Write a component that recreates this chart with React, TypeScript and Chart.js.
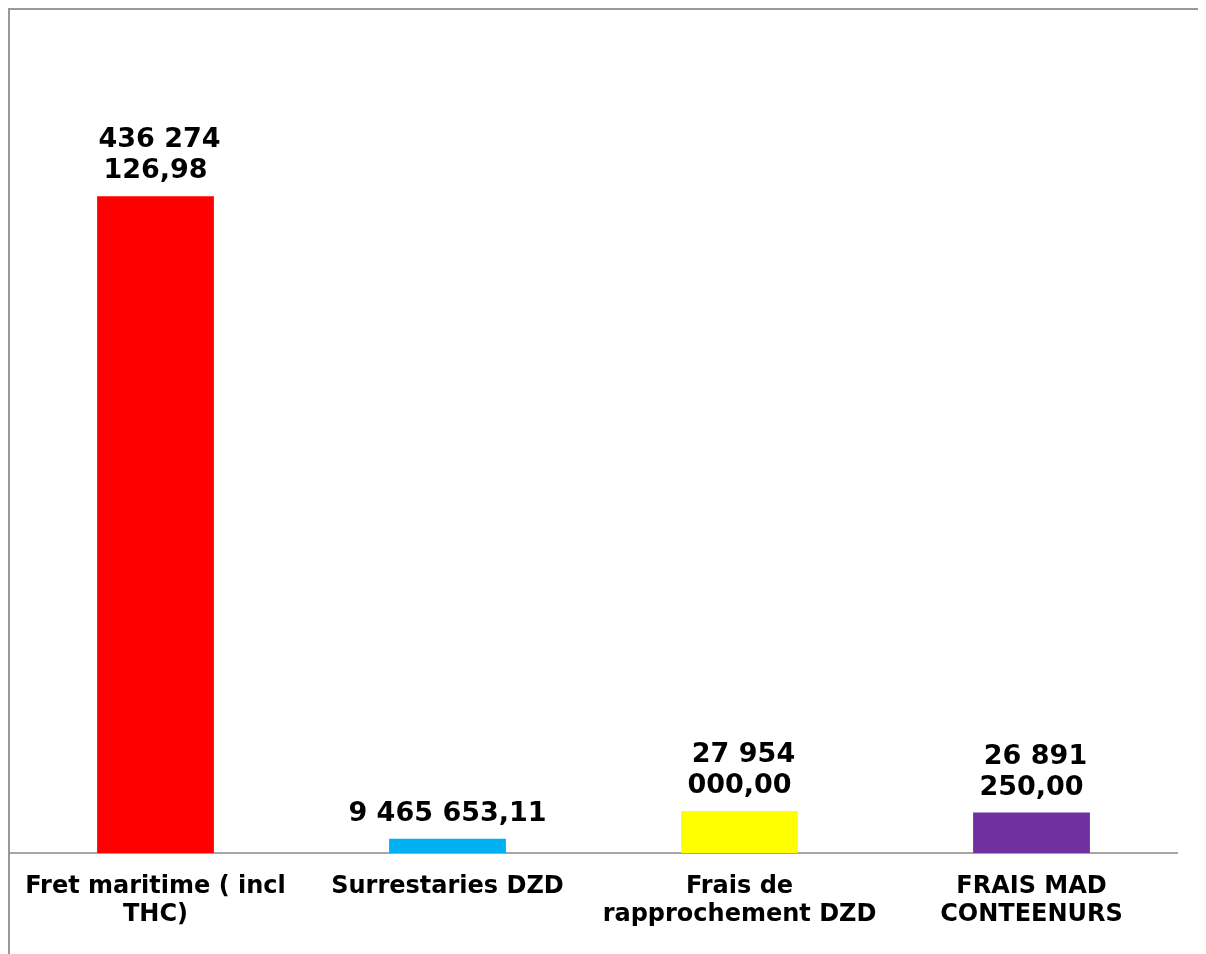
import React, { useEffect, useRef } from "react";
import { Chart, registerables } from "chart.js";

Chart.register(...registerables);

const categories: string[][] = [
  ["Fret maritime ( incl", "THC)"],
  ["Surrestaries DZD"],
  ["Frais de", "rapprochement DZD"],
  ["FRAIS MAD", "CONTEENURS"],
];
const values: number[] = [436274126.98, 9465653.11, 27954000.0, 26891250.0];
const barColors: string[] = ["#FF0000", "#00B0F0", "#FFFF00", "#7030A0"];
const yMax = 560000000;

const FONT = '"DejaVu Sans", Verdana, sans-serif';

function formatFr(v: number): string {
  const [intPart, dec] = v.toFixed(2).split(".");
  const grouped = intPart.replace(/\B(?=(\d{3})+(?!\d))/g, " ");
  return grouped + "," + dec;
}

function wrapText(ctx: CanvasRenderingContext2D, text: string, maxWidth: number): string[] {
  const words = text.split(" ");
  const lines: string[] = [];
  let cur = "";
  for (const w of words) {
    const test = cur ? cur + " " + w : w;
    if (cur && ctx.measureText(test).width > maxWidth) {
      lines.push(cur);
      cur = w;
    } else {
      cur = test;
    }
  }
  if (cur) lines.push(cur);
  return lines;
}

const dataLabelPlugin = {
  id: "dataLabels",
  afterDatasetsDraw(chart: any) {
    const ctx: CanvasRenderingContext2D = chart.ctx;
    const meta = chart.getDatasetMeta(0);
    const ds = chart.data.datasets[0];
    ctx.save();
    ctx.font = `bold 27px ${FONT}`;
    ctx.fillStyle = "#000000";
    ctx.textAlign = "center";
    ctx.textBaseline = "alphabetic";
    meta.data.forEach((bar: any, i: number) => {
      const text = formatFr(ds.data[i] as number);
      const lines = wrapText(ctx, text, 206);
      const baseY = bar.y - 18;
      const lh = 31;
      for (let k = 0; k < lines.length; k++) {
        const y = baseY - (lines.length - 1 - k) * lh;
        const dx = lines.length > 1 && k === 0 ? 4 : 0;
        ctx.fillText(lines[k], bar.x + dx, y);
      }
    });
    ctx.restore();
  },
};

export default function App() {
  const canvasRef = useRef<HTMLCanvasElement | null>(null);

  useEffect(() => {
    if (!canvasRef.current) return;
    const chart = new Chart(canvasRef.current, {
      type: "bar",
      data: {
        labels: categories,
        datasets: [
          {
            data: values,
            backgroundColor: barColors,
            borderWidth: 0,
            categoryPercentage: 1.0,
            barPercentage: 0.4,
          },
        ],
      },
      options: {
        animation: false,
        responsive: false,
        maintainAspectRatio: false,
        layout: { padding: { left: 1.5, right: 28.5, top: 2, bottom: 13 } },
        plugins: {
          legend: { display: false },
          tooltip: { enabled: false },
        },
        scales: {
          x: {
            grid: { display: false },
            border: { display: true, color: "#A6A6A6", width: 2 },
            ticks: {
              color: "#000000",
              padding: 12,
              maxRotation: 0,
              autoSkip: false,
              font: { family: FONT, size: 24, weight: "bold", lineHeight: "28px" },
            },
          },
          y: {
            display: false,
            min: 0,
            max: yMax,
          },
        },
      },
      plugins: [dataLabelPlugin],
    });
    return () => chart.destroy();
  }, []);

  return (
    <div style={{ position: "relative", width: 1198, height: 946 }}>
      <canvas
        ref={canvasRef}
        width={1198}
        height={946}
        style={{ position: "absolute", left: 0, top: 0, width: 1198, height: 946 }}
      />
      <div
        style={{
          position: "absolute",
          left: 0,
          top: 0,
          right: 0,
          bottom: 0,
          borderTop: "2px solid #999999",
          borderLeft: "2px solid #999999",
          pointerEvents: "none",
        }}
      />
    </div>
  );
}
